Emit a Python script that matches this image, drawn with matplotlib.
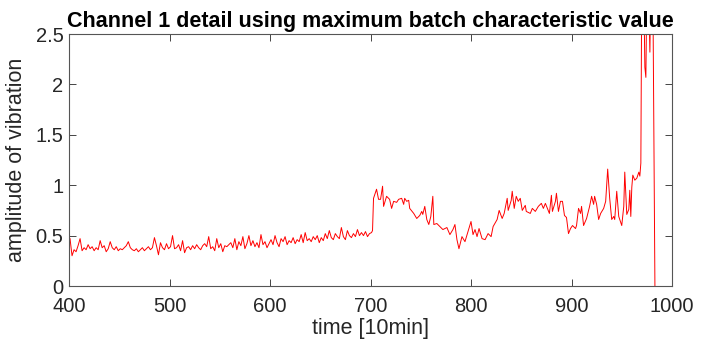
import numpy as np
import matplotlib
matplotlib.use("Agg")
import matplotlib.pyplot as plt

plt.rcParams["font.family"] = ["Liberation Sans", "DejaVu Sans"]

# early part, one value every 2 samples starting at 401
t_early = np.arange(401, 700, 2)
v_early = [
    0.47, 0.30, 0.36, 0.34, 0.40, 0.47, 0.35, 0.38, 0.36, 0.41,
    0.37, 0.39, 0.35, 0.38, 0.36, 0.45, 0.38, 0.40, 0.34, 0.37,
    0.44, 0.38, 0.36, 0.39, 0.35, 0.37, 0.36, 0.38, 0.40, 0.44,
    0.38, 0.36, 0.35, 0.37, 0.34, 0.36, 0.38, 0.35, 0.37, 0.39,
    0.36, 0.38, 0.48, 0.40, 0.31, 0.43, 0.38, 0.36, 0.42, 0.37,
    0.39, 0.50, 0.37, 0.38, 0.41, 0.35, 0.45, 0.33, 0.38, 0.39,
    0.36, 0.40, 0.37, 0.41, 0.38, 0.36, 0.40, 0.42, 0.39, 0.49,
    0.37, 0.39, 0.35, 0.47, 0.38, 0.42, 0.34, 0.40, 0.39, 0.41,
    0.43, 0.38, 0.47, 0.36, 0.44, 0.40, 0.49, 0.37, 0.42, 0.50,
    0.40, 0.45, 0.39, 0.43, 0.38, 0.51, 0.41, 0.44, 0.38, 0.42,
    0.46, 0.41, 0.50, 0.43, 0.39, 0.47, 0.44, 0.49, 0.41, 0.45,
    0.43, 0.48, 0.42, 0.46, 0.44, 0.51, 0.43, 0.53, 0.45, 0.47,
    0.44, 0.49, 0.46, 0.50, 0.43, 0.48, 0.45, 0.52, 0.47, 0.55,
    0.48, 0.46, 0.52, 0.49, 0.47, 0.58, 0.49, 0.46, 0.55, 0.50,
    0.48, 0.52, 0.49, 0.56, 0.50, 0.53, 0.50, 0.54, 0.49, 0.52,
]

# later part, read point by point
t_late = [
    701, 702, 703, 706, 708, 710, 712, 713, 716, 719,
    721, 723, 726, 728, 731, 733, 734, 736, 738, 739,
    743, 746, 749, 751, 752, 754, 756, 758, 760, 762,
    763, 766, 769, 772, 776, 779, 782, 784, 786, 788,
    791, 794, 797, 800, 802, 804, 806, 808, 811, 814,
    817, 820, 822, 826, 828, 831, 833, 836, 837, 840,
    841, 843, 845, 847, 849, 851, 854, 855, 859, 861,
    864, 867, 870, 872, 874, 876, 878, 880, 881, 884,
    885, 887, 889, 891, 893, 895, 897, 899, 901, 904,
    905, 907, 909, 910, 912, 915, 918, 920, 922, 923,
    925, 927, 929, 932, 934, 936, 938, 940, 942, 943,
    945, 947, 950, 952, 953, 955, 957, 958, 959, 960,
    961, 963, 965, 967, 968, 969, 970, 972, 973, 974,
    975, 977, 978, 979, 981, 983,
]
v_late = [
    0.53, 0.55, 0.87, 0.96, 0.86, 0.86, 0.99, 0.79, 0.89, 0.86,
    0.77, 0.84, 0.83, 0.86, 0.87, 0.81, 0.87, 0.84, 0.85, 0.77,
    0.72, 0.67, 0.70, 0.74, 0.71, 0.79, 0.66, 0.61, 0.69, 0.89,
    0.61, 0.62, 0.59, 0.56, 0.58, 0.51, 0.56, 0.61, 0.46, 0.37,
    0.49, 0.44, 0.54, 0.64, 0.51, 0.56, 0.49, 0.57, 0.47, 0.46,
    0.52, 0.49, 0.59, 0.66, 0.75, 0.67, 0.72, 0.87, 0.75, 0.85,
    0.94, 0.77, 0.89, 0.84, 0.87, 0.75, 0.80, 0.74, 0.72, 0.77,
    0.74, 0.79, 0.82, 0.77, 0.82, 0.77, 0.72, 0.90, 0.74, 0.84,
    0.92, 0.74, 0.84, 0.84, 0.70, 0.68, 0.52, 0.57, 0.60, 0.57,
    0.60, 0.77, 0.72, 0.79, 0.60, 0.67, 0.79, 0.89, 0.81, 0.89,
    0.81, 0.66, 0.72, 0.77, 0.84, 1.16, 0.87, 0.66, 0.69, 0.66,
    0.94, 0.69, 0.60, 0.79, 1.13, 0.71, 0.76, 0.95, 0.69, 0.98,
    1.10, 1.05, 1.07, 1.13, 1.09, 1.22, 3.20, 2.90, 2.17, 2.07,
    3.00, 2.80, 2.32, 3.10, 2.90, 0.00,
]

t = np.concatenate([t_early, t_late])
v = np.concatenate([v_early, v_late])

fig = plt.figure(figsize=(7.25, 3.45), dpi=100)
ax = fig.add_axes([0.0952, 0.171, 0.8317, 0.7304])
ax.plot(t, v, color="#ff0000", lw=0.7)

ax.set_xlim(400, 1000)
ax.set_ylim(0, 2.5)
ax.set_xticks(np.arange(400, 1001, 100))
ax.set_yticks([0, 0.5, 1, 1.5, 2, 2.5])
ax.set_yticklabels(["0", "0.5", "1", "1.5", "2", "2.5"])

ax.tick_params(direction="in", top=True, right=True, length=5, width=0.6,
               labelsize=14.5, colors="#262626")
ax.tick_params(axis="x", pad=8)
ax.tick_params(axis="y", pad=4)
for s in ax.spines.values():
    s.set_color("#555555")
    s.set_linewidth(0.8)

ax.set_title("Channel 1 detail using maximum batch characteristic value",
             fontsize=15.5, fontweight="bold", pad=5)
ax.set_xlabel("time [10min]", fontsize=15.5, color="#262626", labelpad=1)
ax.set_ylabel("amplitude of vibration", fontsize=15.5, color="#262626", labelpad=6)

fig.savefig("out.png", dpi=100)
